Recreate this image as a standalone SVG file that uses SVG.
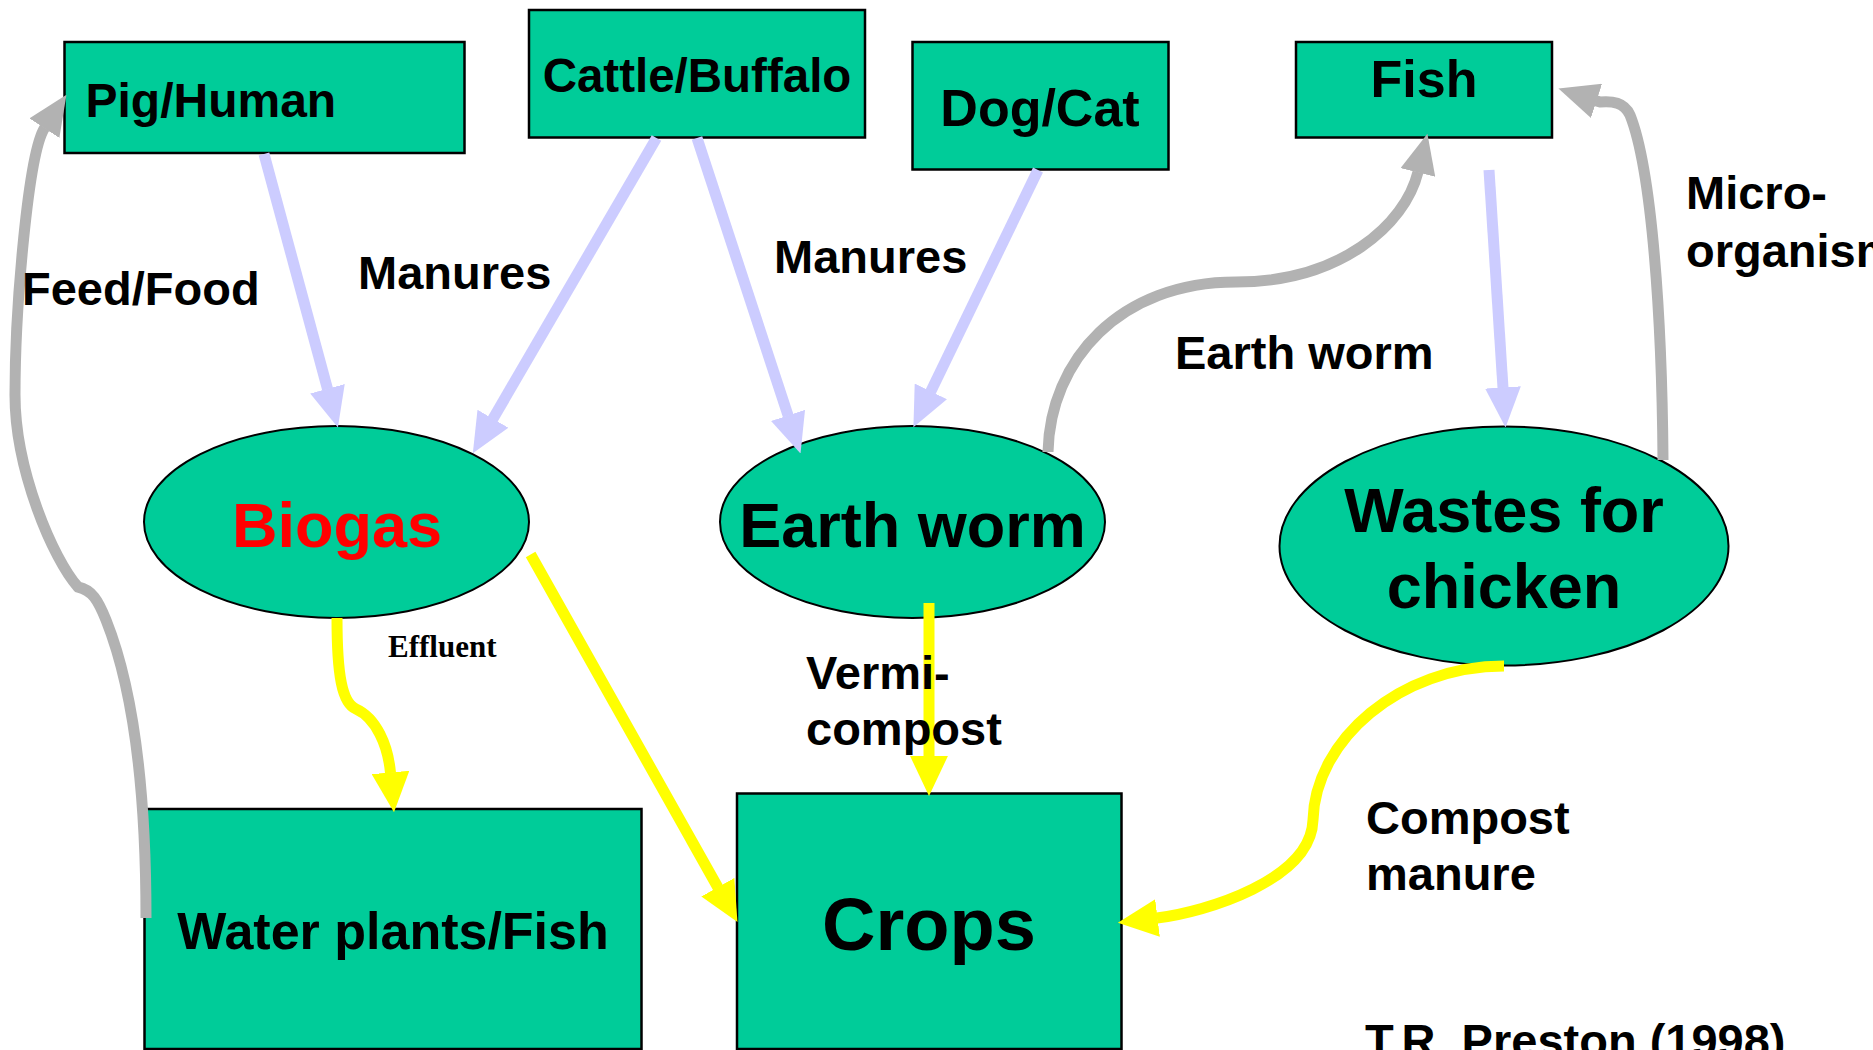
<svg xmlns="http://www.w3.org/2000/svg" width="1873" height="1050" viewBox="0 0 1873 1050">
<style>
.box{fill:#00CC99;stroke:#000;stroke-width:2.5}
.ell{fill:#00CC99;stroke:#000;stroke-width:2}
.t{font-family:"Liberation Sans",Arial,sans-serif;font-weight:bold;fill:#000}
.c{text-anchor:middle}
.lav{fill:none;stroke:#CCCCFF;stroke-width:11}
.gry{fill:none;stroke:#B2B2B2;stroke-width:11}
.yel{fill:none;stroke:#FFFF00;stroke-width:11}
.serif{font-family:"Liberation Serif","Times New Roman",serif;font-weight:bold;fill:#000}
</style>
<defs>
<marker id="aL" markerUnits="userSpaceOnUse" markerWidth="40" markerHeight="36" viewBox="0 0 38 34" refX="0.5" refY="17" orient="auto"><path d="M0,0 L38,17 L0,34 z" fill="#CCCCFF"/></marker>
<marker id="aG" markerUnits="userSpaceOnUse" markerWidth="40" markerHeight="36" viewBox="0 0 38 34" refX="0.5" refY="17" orient="auto"><path d="M0,0 L38,17 L0,34 z" fill="#B2B2B2"/></marker>
<marker id="aY" markerUnits="userSpaceOnUse" markerWidth="40" markerHeight="38" viewBox="0 0 38 36" refX="0.5" refY="18" orient="auto"><path d="M0,0 L38,18 L0,36 z" fill="#FFFF00"/></marker>
</defs>
<rect width="1873" height="1050" fill="#fff"/>

<g id="pig-human"><rect class="box" x="64.5" y="42" width="400" height="111"/><text class="t" x="85.5" y="117" font-size="48">Pig/Human</text></g>
<g id="cattle-buffalo"><rect class="box" x="529" y="10" width="336" height="127.5"/><text class="t c" x="697" y="92" font-size="47.5">Cattle/Buffalo</text></g>
<g id="dog-cat"><rect class="box" x="912.5" y="42" width="256" height="127.5"/><text class="t c" x="1040" y="126" font-size="52">Dog/Cat</text></g>
<g id="fish"><rect class="box" x="1296" y="42" width="256" height="95.5"/><text class="t c" x="1424" y="97" font-size="52">Fish</text></g>
<g id="biogas"><ellipse class="ell" cx="336.5" cy="522" rx="192.5" ry="96"/><text class="t c" x="337" y="546.5" font-size="63" style="fill:#FF0000">Biogas</text></g>
<g id="earthworm"><ellipse class="ell" cx="912.5" cy="522" rx="192.5" ry="96"/><text class="t c" x="912.5" y="547" font-size="63">Earth worm</text></g>
<g id="wastes"><ellipse class="ell" cx="1504" cy="546" rx="224.5" ry="119.5"/><text class="t c" x="1504" y="531.5" font-size="63">Wastes for</text><text class="t c" x="1504" y="608" font-size="63">chicken</text></g>
<g id="waterplants"><rect class="box" x="144.5" y="809" width="497" height="240"/><text class="t c" x="393" y="949" font-size="52">Water plants/Fish</text></g>
<g id="crops"><rect class="box" x="737" y="793.5" width="384.5" height="255.5"/><text class="t c" x="929" y="949.5" font-size="74">Crops</text></g>

<g id="connectors">
<path class="lav" d="M264,154 L327.6,389.3" marker-end="url(#aL)"/>
<path class="lav" d="M656.5,138 L492.7,419.2" marker-end="url(#aL)"/>
<path class="lav" d="M697,138 L788.2,415.9" marker-end="url(#aL)"/>
<path class="lav" d="M1038,170 L930.6,391.8" marker-end="url(#aL)"/>
<path class="lav" d="M1489,170 L1503,388" marker-end="url(#aL)"/>
<path class="gry" d="M146,918 C146,820 138,700 106,620 C98,600 92,590 78,587 C53,559 15,470 15,395 C15,310 28,153 44.7,127.7" marker-end="url(#aG)"/>
<path class="gry" d="M1048,452 C1050,360 1120,282 1236,282 C1340,282 1405,225 1418,172" marker-end="url(#aG)"/>
<path class="gry" d="M1663,460 C1662,320 1652,170 1630,115 C1624,102 1612,101 1600,102 L1596,100.7" marker-end="url(#aG)"/>
<path class="yel" d="M337,618 C337,675 342,703 356,709 C376,718 388,745 390.5,773" marker-end="url(#aY)"/>
<path class="yel" d="M530.6,554.5 L718.1,887.7" marker-end="url(#aY)"/>
<path class="yel" d="M929,603 L929,756.5" marker-end="url(#aY)"/>
<path class="yel" d="M1504,666 C1400,666 1315,740 1313,820 C1311,880 1206,912 1157,918" marker-end="url(#aY)"/>
</g>

<g id="labels">
<text class="t" x="22" y="305" font-size="47">Feed/Food</text>
<text class="t" x="358" y="289" font-size="47">Manures</text>
<text class="t" x="774" y="273" font-size="47">Manures</text>
<text class="t" x="1175" y="369" font-size="47">Earth worm</text>
<text class="t" x="1686" y="209" font-size="47">Micro-</text>
<text class="t" x="1686" y="267" font-size="47">organisms</text>
<text class="serif" x="388" y="657" font-size="31">Effluent</text>
<text class="t" x="806" y="689" font-size="47">Vermi-</text>
<text class="t" x="806" y="745" font-size="47">compost</text>
<text class="t" x="1366" y="834" font-size="47">Compost</text>
<text class="t" x="1366" y="890" font-size="47">manure</text>
<text class="t" x="1365" y="1057" font-size="47">T.R. Preston (1998)</text>
</g>
</svg>
